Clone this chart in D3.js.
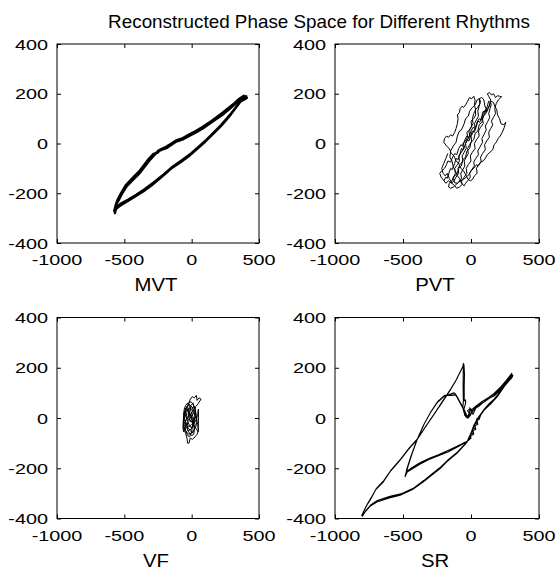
<!DOCTYPE html>
<html><head><meta charset="utf-8">
<script src="https://cdn.jsdelivr.net/npm/d3@7"></script>
<style>body{margin:0;background:#fff}svg{display:block}text{font-family:"Liberation Sans",Arial,sans-serif;fill:#000}</style>
</head><body>
<script>
const titleText = "Reconstructed Phase Space for Different Rhythms";
const panelNames = ["MVT", "PVT", "VF", "SR"];
const xTicks = [-1000, -500, 0, 500];
const yTicks = [-400, -200, 0, 200, 400];
const xDomain = [-1000, 500];
const yDomain = [-400, 400];

const mvt = [
 [-572,-277],[-560,-245],[-547,-233],[-520,-205],[-485,-173],[-440,-148],[-386,-119],[-320,-72],[-280,-48],[-250,-32],[-220,-25],[-188,-19],[-150,-5],[-114,8],[-60,18],[-15,31],[35,45],[84,61],[135,80],[183,98],[235,118],[282,139],[320,157],[356,175],[393,186],[405,190],
 [400,185],[370,175],[356,165],[320,140],[294,122],[257,98],[220,75],[165,45],[109,15],[55,-12],[-2,-39],[-70,-66],[-139,-92],[-210,-125],[-287,-159],[-350,-184],[-411,-206],[-470,-225],[-522,-240],[-550,-252],[-565,-265],[-575,-272],
 [-565,-250],[-552,-228],[-525,-200],[-490,-168],[-445,-142],[-390,-112],[-325,-66],[-285,-42],[-255,-38],[-225,-22],[-190,-13],[-150,0],[-110,14],[-65,22],[-20,36],[30,50],[80,66],[130,84],[180,104],[230,124],[278,145],[318,162],[352,179],[388,192],[410,184],
 [395,178],[365,170],[350,160],[315,134],[290,116],[252,92],[215,70],[160,40],[104,10],[50,-17],[-8,-44],[-75,-71],[-145,-97],[-215,-130],[-292,-164],[-355,-189],[-416,-210],[-475,-230],[-528,-246],[-556,-258],[-566,-270],[-570,-280],
 [-558,-240],[-542,-226],[-515,-198],[-480,-170],[-435,-145],[-380,-115],[-315,-69],[-276,-45],[-245,-28],[-215,-21],[-182,-16],[-144,-2],[-108,12],[-55,22],[-10,34],[40,48],[90,63],[140,82],[188,100],[240,120],[287,142],[325,160],[360,178],[398,188],[402,186],
 [392,180],[362,168],[346,158],[310,132],[286,114],[248,89],[211,67],[155,37],[100,7],[45,-20],[-12,-47],[-80,-74],[-150,-100],[-220,-133],[-297,-168],[-360,-193],[-420,-213],[-480,-233],[-532,-250],[-560,-262],[-572,-277]
];

const pvt = [
 [-200,-150],[-185,-135],[-175,-140],[-160,-115],[-150,-100],[-138,-105],[-120,-80],[-110,-60],[-95,-65],[-80,-40],[-70,-20],[-55,-25],[-40,0],[-30,15],[-15,10],[0,35],[10,50],[25,45],[40,70],[50,90],[65,85],[80,110],[90,130],[105,125],[120,150],[130,170],[140,165],
 [150,160],[140,140],[130,120],[138,105],[120,85],[105,70],[112,55],[95,35],[80,20],[85,5],[65,-15],[50,-30],[55,-45],[35,-60],[20,-75],[25,-90],[5,-105],[-10,-120],[-5,-135],[-25,-150],[-40,-160],
 [-50,-170],[-70,-160],[-85,-140],[-100,-130],[-115,-110],[-130,-95],[-140,-70],[-155,-55],[-150,-30],[-130,-10],[-110,5],[-100,30],[-85,50],[-70,55],[-50,80],[-40,100],[-20,110],[-10,130],[10,145],[30,155],[45,175],[60,180],
 [70,170],[60,150],[50,130],[55,110],[40,95],[25,80],[30,60],[15,45],[0,30],[5,10],[-10,-5],[-25,-20],[-20,-40],[-35,-55],[-50,-70],[-45,-90],[-60,-105],[-75,-120],[-70,-140],[-90,-155],[-110,-165],[-130,-175],[-150,-180],[-165,-175],
 [-160,-160],[-140,-150],[-125,-130],[-105,-125],[-90,-100],[-70,-90],[-60,-65],[-40,-55],[-30,-30],[-10,-20],[0,5],[20,15],[30,40],[50,50],[60,75],[80,85],[90,110],[110,120],[120,140],[135,150],[145,175],[130,190],[120,200],[135,205],[150,195],[165,200],[180,185],[195,192],[210,190],[225,188],
 [200,175],[185,160],[175,140],[180,120],[165,105],[150,90],[160,75],[145,60],[130,45],[135,25],[115,10],[100,-5],[105,-25],[85,-40],[70,-55],[75,-75],[55,-85],[40,-100],[45,-120],[25,-130],[10,-145],[-5,-150],
 [-20,-145],[-40,-125],[-55,-110],[-75,-100],[-90,-80],[-110,-70],[-125,-50],[-145,-40],[-160,-20],[-180,-10],[-200,5],[-195,20],[-180,30],[-165,25],[-150,35],[-135,30],[-120,45],[-110,60],[-100,80],[-95,100],[-100,115],[-85,125],[-80,140],[-65,150],[-55,145],[-40,155],[-25,170],[-10,185],[5,180],[20,190],
 [30,175],[25,155],[35,135],[20,120],[10,100],[15,80],[0,65],[-15,50],[-10,30],[-25,15],[-40,0],[-35,-20],[-50,-35],[-65,-50],[-60,-70],[-80,-85],[-95,-100],[-90,-120],[-110,-135],[-125,-150],[-145,-160],[-165,-150],[-185,-160],[-205,-145],[-220,-135],[-230,-120],
 [-215,-110],[-195,-100],[-180,-85],[-170,-70],[-150,-75],[-135,-55],[-120,-40],[-105,-45],[-90,-20],[-75,-5],[-60,-10],[-45,15],[-30,30],[-15,25],[0,50],[15,65],[30,60],[45,85],[60,100],[75,95],[90,120],[105,135],[120,130],[135,155],[150,170],[165,165],[175,150],
 [190,135],[195,115],[210,100],[220,80],[240,75],[255,85],[245,65],[230,45],[215,30],[200,20],[185,5],[170,-5],[160,-25],[140,-35],[120,-45],[105,-60],[90,-70],[70,-75],[55,-90],[40,-85],[20,-100],[0,-110],[-15,-125],[-35,-135],[-55,-145],[-80,-150],[-100,-160],[-120,-158],
 [-130,-140],[-115,-120],[-120,-100],[-100,-85],[-85,-70],[-90,-50],[-70,-35],[-55,-20],[-60,0],[-40,10],[-25,25],[-30,45],[-10,55],[5,70],[0,90],[20,100],[35,115],[30,135],[50,145],[65,160],[60,180],[80,185],[95,175],[100,155],[110,140],
 [100,120],[85,100],[90,80],[70,65],[55,50],[60,30],[40,15],[25,0],[30,-20],[10,-35],[-5,-50],[0,-70],[-20,-85],[-35,-100],[-30,-120],[-50,-135],[-70,-150],[-65,-165],[-85,-175],[-105,-180],[-120,-170],[-140,-160],[-160,-140],[-175,-120],[-190,-130],[-205,-120],[-215,-100],[-200,-80],[-185,-60],[-170,-40]
];

const vf = [
 [0,0],[-15,20],[-30,35],[-45,25],[-55,5],[-50,-15],[-40,-35],[-25,-50],[-5,-45],[10,-30],[20,-10],[25,10],[15,30],[0,45],[-20,55],[-35,45],[-50,30],[-60,10],[-62,-15],[-55,-40],[-40,-55],[-20,-65],[0,-60],[15,-50],[30,-35],[40,-15],[35,10],[25,35],[10,55],[-5,65],[-20,60],[-30,45],[-25,25],[-10,10],[5,-5],[10,-25],[0,-40],[-15,-30],[-30,-15],[-40,5],[-35,25],[-20,40],[0,35],[15,20],[30,0],[45,-25],[50,-50],[40,-65],[25,-75],[5,-85],[-10,-80],[-20,-100],[-30,-100],[-35,-80],[-45,-60],[-55,-50],[-65,-30],[-60,-5],[-50,20],[-40,40],[-25,55],[-10,75],[5,85],[20,80],[35,90],[40,70],[55,80],[70,75],[45,55],[30,45],[20,25],[5,15],[-10,0],[-25,-10],[-35,-30],[-30,-50],[-15,-60],[0,-70],[15,-65],[20,-45],[10,-20],[-5,0],[-20,15],[-30,5],[-45,-10],[-50,-30],[-45,-50],[-30,-70],[-15,-75],[0,-55],[5,-35],[15,-15],[10,5],[-5,25],[-15,45],[-30,60],[-45,50],[-55,35],[-60,15],[-55,-5],[-40,-20],[-20,-35],[0,-25],[20,-20],[35,-5],[45,15],[50,35],[50,-20],[48,-55],[35,-45],[20,-30],[0,-15],[-20,-5],[-40,0],[-50,20],[-45,40],[-30,30],[-15,15],[0,5],[15,-5],[25,-25],[20,-45],[5,-60],[-10,-50],[-25,-40],[-40,-25],[-50,-40],[-60,-55],[-65,-40],[-55,-20],[-35,-5],[-15,10],[5,25],[20,40],[10,60],[-5,50],[-15,30],[-25,15],[-10,-15],[10,-10],[25,5],[30,25],[20,45],[0,40]
];

const sr = [
 [-805,-390],[-770,-350],[-740,-325],[-700,-285],[-644,-254],[-590,-210],[-521,-168],[-460,-125],[-399,-88],[-340,-40],[-276,11],[-215,60],[-153,111],[-110,150],[-79,184],[-60,205],[-55,217],[-57,180],[-58,130],[-56,71],[-60,40],[-45,10],[-30,5],[-20,10],[-10,25],
 [20,40],[60,55],[100,72],[140,85],[170,95],[210,115],[250,140],[280,160],[300,175],[305,165],[280,150],[240,125],[200,95],[170,75],[130,55],[90,30],[50,0],[20,-30],[0,-60],[-30,-95],
 [-100,-115],[-170,-135],[-240,-150],[-310,-165],[-380,-185],[-440,-205],[-470,-215],[-485,-234],
 [-470,-200],[-440,-150],[-400,-90],[-350,-30],[-300,20],[-250,60],[-200,85],[-150,95],[-125,100],[-116,97],[-100,80],[-80,60],[-60,40],[-40,20],[-30,5],[-10,15],[-25,30],[-5,35],[-20,0],[5,20],
 [30,45],[80,65],[130,82],[170,98],[220,125],[260,150],[300,178],[295,160],[250,130],[200,90],[150,60],[100,35],[60,5],[25,-25],[5,-55],[-30,-97],
 [-104,-141],[-170,-170],[-227,-201],[-290,-228],[-350,-254],[-430,-285],[-521,-307],[-600,-318],[-693,-334],[-740,-350],[-780,-375],[-800,-385],
 [-765,-345],[-735,-318],[-695,-280],[-640,-248],[-585,-205],[-516,-163],[-455,-120],[-394,-83],[-335,-35],[-271,16],[-210,66],[-148,116],[-105,155],[-75,188],[-52,213],[-48,175],[-50,125],[-50,68],[-40,72],[-40,58],[-52,35],[-38,5],[-25,0],[-12,6],[0,20],
 [25,36],[65,50],[105,68],[145,82],[175,90],[215,110],[255,136],[285,157],[308,170],[300,160],[275,146],[235,120],[195,90],[165,70],[125,50],[85,25],[55,0],[40,-5],[45,-20],[25,-25],[30,-40],[10,-45],[15,-60],[-5,-65],[0,-80],[-25,-92],
 [-95,-110],[-165,-128],[-235,-145],[-305,-160],[-375,-178],[-435,-198],[-465,-210],[-480,-228],
 [-465,-195],[-435,-145],[-395,-85],[-345,-25],[-295,25],[-245,65],[-195,90],[-145,90],[-120,92],[-108,90],[-92,75],[-72,55],[-52,35],[-35,15],[-22,0],[-5,10],[10,30],[-10,40],[15,15],
 [35,40],[85,60],[135,78],[175,92],[225,120],[265,146],[298,170],[290,155],[245,126],[195,86],[145,56],[95,30],[70,10],[60,-5],[45,-10],[50,-25],[30,-30],[35,-45],[15,-50],[20,-65],[0,-70],[-25,-92],
 [-98,-135],[-165,-165],[-222,-195],[-285,-222],[-345,-248],[-425,-280],[-516,-302],[-595,-312],[-688,-328],[-735,-345],[-775,-370],[-800,-392]
];

const seriesList = [mvt, pvt, vf, sr];

const width = 556, height = 570;
const svg = d3.select("body").append("svg").attr("width", width).attr("height", height);

const boxes = [
  {l: 57, t: 44, w: 202, h: 199},
  {l: 335, t: 44, w: 204, h: 199},
  {l: 57, t: 317.5, w: 202, h: 201},
  {l: 335, t: 317.5, w: 204, h: 201}
];
const strokeW = [2.4, 1.0, 1.0, 1.1];
const tickFont = 15.5, tickScale = 1.28, labelFont = 18, labelScale = 1.13;

function stext(g, str, x, y, size, sx, anchor) {
  return g.append("text")
    .attr("transform", `translate(${x},${y}) scale(${sx},1)`)
    .attr("text-anchor", anchor)
    .attr("font-size", size)
    .text(str);
}

boxes.forEach((b, i) => {
  const x = d3.scaleLinear().domain(xDomain).range([b.l, b.l + b.w]);
  const y = d3.scaleLinear().domain(yDomain).range([b.t + b.h, b.t]);
  const g = svg.append("g");

  const line = d3.line().x(d => x(d[0])).y(d => y(d[1]));
  g.append("path").datum(seriesList[i])
    .attr("d", line).attr("fill", "none").attr("stroke", "#000")
    .attr("stroke-width", strokeW[i]).attr("stroke-linejoin", "round");

  const tl = 4;
  g.append("g").attr("transform", `translate(0,${b.t + b.h})`)
    .call(d3.axisBottom(x).tickValues(xTicks).tickSize(-tl).tickFormat(""));
  g.append("g").attr("transform", `translate(0,${b.t})`)
    .call(d3.axisTop(x).tickValues(xTicks).tickSize(-tl).tickFormat(""));
  g.append("g").attr("transform", `translate(${b.l},0)`)
    .call(d3.axisLeft(y).tickValues(yTicks).tickSize(-tl).tickFormat(""));
  g.append("g").attr("transform", `translate(${b.l + b.w},0)`)
    .call(d3.axisRight(y).tickValues(yTicks).tickSize(-tl).tickFormat(""));
  g.selectAll(".domain").remove();
  g.selectAll(".tick line").attr("stroke", "#000");

  g.append("rect").attr("x", b.l).attr("y", b.t).attr("width", b.w).attr("height", b.h)
    .attr("fill", "none").attr("stroke", "#000").attr("stroke-width", 1);

  xTicks.forEach(v => stext(g, String(v), x(v), b.t + b.h + 22, tickFont, tickScale, "middle"));
  yTicks.forEach(v => stext(g, String(v), b.l - 9, y(v) + 5.5, tickFont, tickScale, "end"));

  stext(g, panelNames[i], b.l + b.w / 2 - 2, b.t + b.h + 48, labelFont, labelScale, "middle");
});

const t = stext(svg, titleText, 0, 28, 18, 1, "middle");
const len = t.node().getComputedTextLength();
t.attr("transform", `translate(319,28) scale(${422 / len},1)`);
</script>
</body></html>
